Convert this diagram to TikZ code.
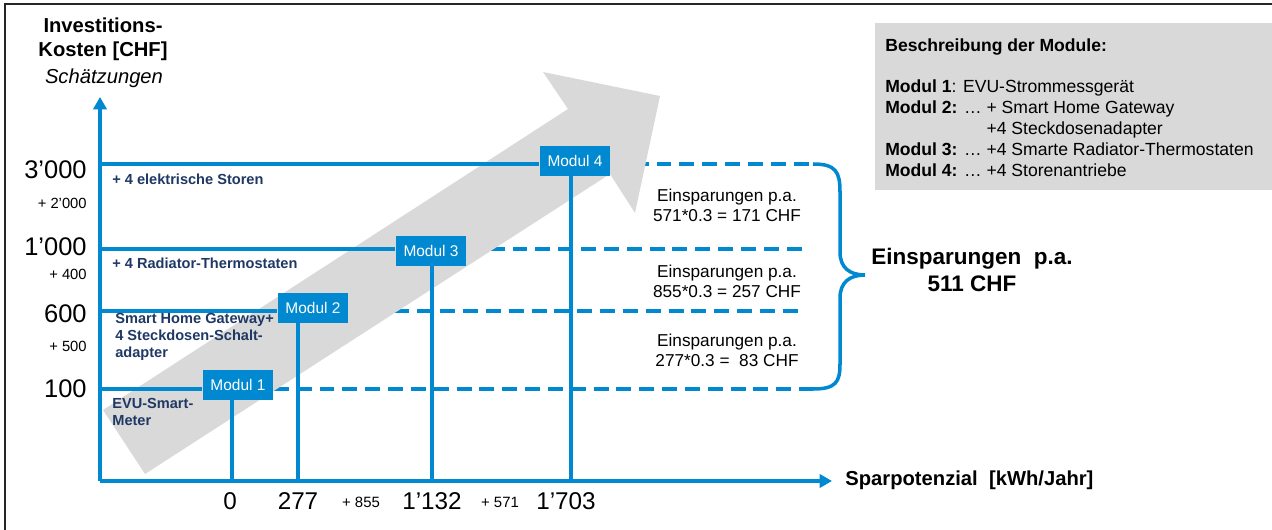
\documentclass[tikz,border=0pt]{standalone}
\usepackage{fontspec}
\setmainfont{Liberation Sans}
\usetikzlibrary{arrows.meta, positioning, backgrounds}
\definecolor{modblue}{RGB}{0,137,208}
\definecolor{labblue}{RGB}{31,56,100}
\definecolor{arrowgray}{RGB}{217,217,217}
\tikzset
{%
axis/.style={draw=modblue, line width=2.7pt, -{Triangle[length=7pt, width=7.5pt]}},
level/.style={draw=modblue, line width=2pt},
drop/.style={draw=modblue, line width=2pt},
saving/.style={draw=modblue, line width=2.3pt, dash pattern=on 8.5pt off 4.5pt},
brace/.style={draw=modblue, line width=2pt},
modul/.style={fill=modblue, text=white, minimum width=1.42cm, minimum height=0.6cm, font=\fontsize{8.8}{10}\selectfont},
bigval/.style={anchor=east, font=\fontsize{14.5}{16}\selectfont},
addval/.style={anchor=east, font=\fontsize{8.4}{10}\selectfont},
xval/.style={font=\fontsize{13.8}{16}\selectfont},
xadd/.style={font=\fontsize{8.5}{10}\selectfont},
addon/.style={anchor=west, align=left, text=labblue, font=\bfseries\fontsize{8.3}{9.6}\selectfont},
einsp/.style={align=center, font=\fontsize{9.8}{11.3}\selectfont},
heading/.style={align=center, font=\bfseries\fontsize{11.5}{13.6}\selectfont}
}

\begin{document}
\begin{tikzpicture}[x=0.02cm, y=-0.02cm, every node/.style={inner sep=0pt}]
	\useasboundingbox (0,0) rectangle (1272,530);
	\draw[line width=1.2pt, black!85] (5,530) -- (5,4) -- (1272,4);
	
	%axes
	\coordinate (o) at (100,481);
	\coordinate (ytip) at (100,97);
	\coordinate (xtip) at (832,481);
	\draw[axis] (o) -- (ytip);
	\draw[axis] (o) -- (xtip);
	\node[heading, anchor=north] (ytitle) at (103,18) {Investitions-\\Kosten [CHF]};
	\node[anchor=north, font=\itshape\fontsize{11.5}{13.6}\selectfont] (yhint) at (104,69) {Schätzungen};
	\node[heading, anchor=west] (xtitle) at (845,480) {Sparpotenzial\ \ [kWh/Jahr]};
	
	%levels and modules
	\coordinate (l1) at (100,389);
	\coordinate (l2) at (100,311);
	\coordinate (l3) at (100,249);
	\coordinate (l4) at (100,164);
	\coordinate (t1) at (232,481);
	\coordinate (t2) at (298,481);
	\coordinate (t3) at (432,481);
	\coordinate (t4) at (571,481);
	\node[modul] (m1) at (238,385) {Modul 1};
	\node[modul] (m2) at (313,308) {Modul 2};
	\node[modul] (m3) at (431,251) {Modul 3};
	\node[modul] (m4) at (575,161) {Modul 4};
	\draw[level] (l1) -- (l1 -| m1.west);
	\draw[level] (l2) -- (l2 -| m2.west);
	\draw[level] (l3) -- (l3 -| m3.west);
	\draw[level] (l4) -- (l4 -| m4.west);
	\draw[drop] (m1.south -| t1) -- (t1);
	\draw[drop] (m2.south -| t2) -- (t2);
	\draw[drop] (m3.south -| t3) -- (t3);
	\draw[drop] (m4.south -| t4) -- (t4);
	
	%savings, under the big arrow
	\coordinate (d1) at (813,389);
	\coordinate (d2) at (805,311);
	\coordinate (d3) at (805,249);
	\coordinate (d4) at (813,164);
	\begin{scope}[on background layer]
		\draw[saving] (l1 -| m1.east) -- (d1);
		\draw[saving] (l2 -| m2.east) -- (d2);
		\draw[saving] (l3 -| m3.east) -- (d3);
		\draw[saving] (l4 -| m4.east) -- (d4);
		\fill[arrowgray] (103,410) -- (568,109) -- (543,72) -- (660,96) -- (635,213) -- (610,174) -- (145,474) -- cycle;
	\end{scope}
	\draw[brace] (d4) .. controls (836,164) and (840,172) .. (840,192) -- (840,252)
		.. controls (840,268) and (850,275) .. (865,275)
		.. controls (850,275) and (840,282) .. (840,298) -- (840,364)
		.. controls (840,382) and (836,389) .. (d1);
	
	%y values
	\node[bigval] (v4) at (87,170) {3’000};
	\node[addval] (a4) at (87,203) {+ 2’000};
	\node[bigval] (v3) at (87,247) {1’000};
	\node[addval] (a3) at (87,274) {+ 400};
	\node[bigval] (v2) at (87,314) {600};
	\node[addval] (a2) at (87,346) {+ 500};
	\node[bigval] (v1) at (87,389) {100};
	
	%x values
	\node[xval] (x1) at (230,501) {0};
	\node[xval] (x2) at (298,501) {277};
	\node[xadd] (x23) at (361,502) {+ 855};
	\node[xval] (x3) at (432,501) {1’132};
	\node[xadd] (x34) at (500,502) {+ 571};
	\node[xval] (x4) at (566,501) {1’703};
	
	%what each module adds
	\node[addon] (n4) at (112,179) {+ 4 elektrische Storen};
	\node[addon] (n3) at (112,263) {+ 4 Radiator-Thermostaten};
	\node[addon] (n2) at (115,337) {Smart Home Gateway+\\4 Steckdosen-Schalt-\\adapter};
	\node[addon] (n1) at (112,412) {EVU-Smart-\\Meter};
	
	\node[einsp] (s4) at (727,205) {Einsparungen p.a.\\571*0.3 = 171 CHF};
	\node[einsp] (s3) at (727,281) {Einsparungen p.a.\\855*0.3 = 257 CHF};
	\node[einsp] (s2) at (727,350) {Einsparungen p.a.\\277*0.3 = \ 83 CHF};
	\node[align=center, font=\bfseries\fontsize{12.8}{15.3}\selectfont] (total) at (972,270) {Einsparungen\ \ p.a.\\511 CHF};
	
	%legend
	\node[fill=arrowgray, minimum width=7.94cm, minimum height=3.34cm, anchor=north west] (leg) at (875,23) {};
	\node[align=left, anchor=north west, font=\fontsize{10}{11.9}\selectfont] (legtxt) at (885,38)
	{\textbf{Beschreibung der Module:}\\[11.9pt]
	\textbf{Modul 1}: EVU-Strommessgerät\\
	\textbf{Modul 2:} … + Smart Home Gateway\\
	\hphantom{\textbf{Modul 2:} … }+4 Steckdosenadapter\\
	\textbf{Modul 3:} … +4 Smarte Radiator-Thermostaten\\
	\textbf{Modul 4:} … +4 Storenantriebe};
\end{tikzpicture}
\end{document}
